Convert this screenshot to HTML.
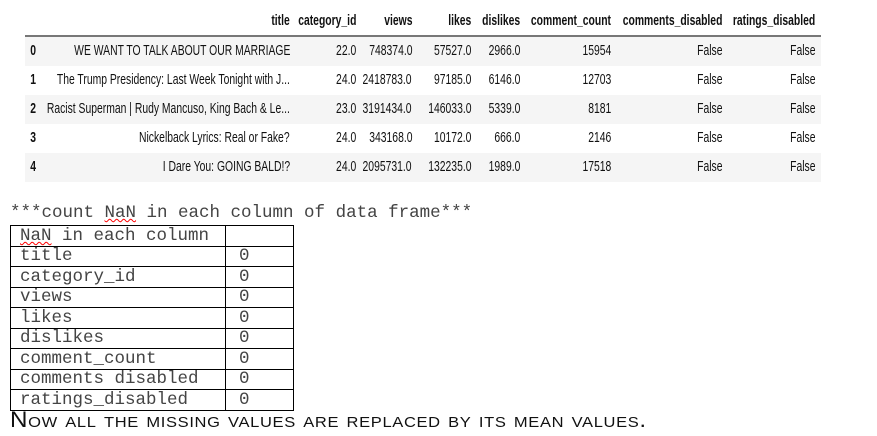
<!DOCTYPE html>
<html><head><meta charset="utf-8"><style>
body{margin:0;width:877px;height:436px;background:#fff;position:relative;overflow:hidden;font-family:"Liberation Sans",sans-serif;color:#000}
.c{position:absolute;font-size:14.5px;white-space:nowrap;transform:scaleX(0.715);transform-origin:right center;line-height:16px;color:#111}
.b{font-weight:bold}
.stripe{position:absolute;left:25px;width:796px;height:29px;background:#f5f5f5}
.mono{position:absolute;font-family:"Liberation Mono",monospace;font-size:17.5px;white-space:nowrap;color:#444}
#nan{position:absolute;left:10px;top:225px;border-collapse:collapse;font-family:"Liberation Mono",monospace;font-size:17.5px;color:#444}
#nan td{border:1px solid #000;height:19.5px;padding:0 0 0 9px;line-height:18px}
#nan td.v{width:54px;padding-left:13px}
</style></head><body>
<div id="df">
<div style="position:absolute;left:25px;top:35px;width:796px;height:2px;background:#777"></div>
</div>
<div class="mono" style="left:10px;top:203px">***count <span style="text-decoration:underline wavy red;text-decoration-thickness:1px">NaN</span> in each column of data frame***</div>
<table id="nan"><tbody id="nb"></tbody></table>
<div style="position:absolute;left:10px;top:407px;font-family:'Liberation Sans',sans-serif;font-variant:small-caps;font-size:22px;letter-spacing:0.6px;transform:scaleX(1.1);transform-origin:left;white-space:nowrap;color:#111">Now all the missing values are replaced by its mean values.</div>
<script>
const headers=["title","category_id","views","likes","dislikes","comment_count","comments_disabled","ratings_disabled"];
const rights=[290,356,412,471,520,611,722,815];
const rows=[
["WE WANT TO TALK ABOUT OUR MARRIAGE","22.0","748374.0","57527.0","2966.0","15954","False","False"],
["The Trump Presidency: Last Week Tonight with J...","24.0","2418783.0","97185.0","6146.0","12703","False","False"],
["Racist Superman | Rudy Mancuso, King Bach & Le...","23.0","3191434.0","146033.0","5339.0","8181","False","False"],
["Nickelback Lyrics: Real or Fake?","24.0","343168.0","10172.0","666.0","2146","False","False"],
["I Dare You: GOING BALD!?","24.0","2095731.0","132235.0","1989.0","17518","False","False"]];
const nanCols=["title","category_id","views","likes","dislikes","comment_count","comments disabled","ratings_disabled"];
const nanVals=[0,0,0,0,0,0,0,0];
const df=document.getElementById('df');
function cell(txt,right,top,cls,name){const d=document.createElement('div');d.className='c '+(cls||'');d.textContent=txt;d.style.right=(877-right)+'px';d.style.top=top+'px';


df.appendChild(d);}
headers.forEach((h,i)=>cell(h,rights[i],13,'b','column-header'));
rows.forEach((r,ri)=>{const top=37+ri*29;
if(ri%2==0){const s=document.createElement('div');s.className='stripe';s.style.top=top+'px';


df.insertBefore(s,df.firstChild);}
cell(String(ri),36,top+6,'b','row-index');
r.forEach((v,i)=>cell(v,rights[i],top+6,'','table-cell'));});
const nb=document.getElementById('nb');
const hr=document.createElement('tr');hr.innerHTML='<td><span style="text-decoration:underline wavy red;text-decoration-thickness:1px">NaN</span> in each column</td><td class="v"></td>';


nb.appendChild(hr);
nanCols.forEach((c,i)=>{const tr=document.createElement('tr');tr.innerHTML='<td style="width:205px">'+c+'</td><td class="v">'+nanVals[i]+'</td>';


nb.appendChild(tr);});
</script>
</body></html>
